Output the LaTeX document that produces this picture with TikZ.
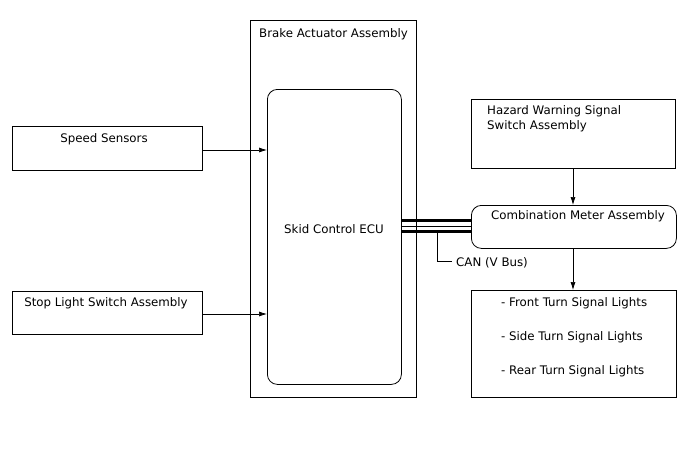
\documentclass[tikz,border=0pt]{standalone}
\usepackage{fontspec}
\setmainfont{DejaVu Sans}
\usetikzlibrary{arrows.meta}
\begin{document}
\begin{tikzpicture}[x=1pt,y=-1pt,
  box/.style={draw, line width=0.8pt, anchor=north west, inner sep=0pt},
  rbox/.style={box, rounded corners=10pt},
  lbl/.style={font=\fontsize{11.8}{14}\selectfont, inner sep=0pt, yshift=-1.5pt},
  arr/.style={line width=0.7pt, -{Latex[length=8pt,width=5pt]}},
  bus/.style={line width=3.2pt}]
\useasboundingbox (0,0) rectangle (688,463);
\fill[white] (0,0) rectangle (688,463);
% boxes
\node[box, minimum width=166pt, minimum height=377pt] (brake) at (250,20) {};
\node[rbox, minimum width=134pt, minimum height=295pt] (ecu) at (267,89) {};
\node[box, minimum width=190pt, minimum height=44pt] (speed) at (12,126) {};
\node[box, minimum width=190pt, minimum height=43pt] (stop) at (12,291) {};
\node[box, minimum width=204pt, minimum height=69pt] (hazard) at (471,99) {};
\node[rbox, minimum width=205pt, minimum height=43pt] (combo) at (471,205) {};
\node[box, minimum width=205pt, minimum height=107pt] (turn) at (471,290) {};
% labels
\node[lbl, anchor=west] (tbrake) at (259,33) {Brake Actuator Assembly};
\node[lbl] (tecu) at (334,227.5) {Skid Control ECU};
\node[lbl] (tspeed) at (104,137.5) {Speed Sensors};
\node[lbl] (tstop) at (106,301.5) {Stop Light Switch Assembly};
\node[lbl, anchor=west] (thaz1) at (487,109.5) {Hazard Warning Signal};
\node[lbl, anchor=west] (thaz2) at (487,124.5) {Switch Assembly};
\node[lbl] (tcombo) at (578,214.5) {Combination Meter Assembly};
\node[lbl, anchor=west] (tturn1) at (501,301.5) {- Front Turn Signal Lights};
\node[lbl, anchor=west] (tturn2) at (501,335.5) {- Side Turn Signal Lights};
\node[lbl, anchor=west] (tturn3) at (501,369.5) {- Rear Turn Signal Lights};
\node[lbl, anchor=west] (tcan) at (456,261) {CAN (V Bus)};
% arrows
\draw[arr] (speed.east |- 0,150) -- (ecu.west |- 0,150);
\draw[arr] (stop.east |- 0,314) -- (ecu.west |- 0,314);
\draw[arr] (hazard.south -| 573,0) -- (combo.north -| 573,0);
\draw[arr] (combo.south -| 573,0) -- (turn.north -| 573,0);
% CAN bus
\draw[bus] (ecu.east |- 0,220.5) -- (combo.west |- 0,220.5);
\draw[line width=0.7pt] (ecu.east |- 0,226) -- (combo.west |- 0,226);
\draw[bus] (ecu.east |- 0,231.5) -- (combo.west |- 0,231.5);
\coordinate (tap) at (437,233);
\coordinate (canend) at (452,261);
\draw[line width=0.7pt] (tap) |- (canend);
\end{tikzpicture}
\end{document}
